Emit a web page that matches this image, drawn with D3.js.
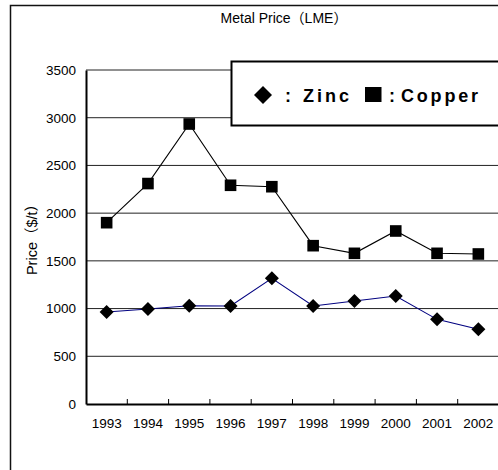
<!DOCTYPE html>
<html>
<head>
<meta charset="utf-8">
<script src="https://cdn.jsdelivr.net/npm/d3@7"></script>
<style>
  html, body { margin: 0; padding: 0; background: #fff; }
  svg { display: block; }
  text { font-family: "Liberation Sans", Arial, "Noto Sans CJK JP", sans-serif; fill: #000; }
</style>
</head>
<body>
<script>
const years = ["1993","1994","1995","1996","1997","1998","1999","2000","2001","2002"];
const zinc = [964, 995, 1030, 1027, 1317, 1027, 1079, 1132, 887, 783];
const copper = [1900, 2310, 2934, 2292, 2277, 1659, 1579, 1813, 1579, 1572];
const yTicks = [0, 500, 1000, 1500, 2000, 2500, 3000, 3500];
const title = "Metal Price（LME）";
const yLabel = "Price（$/t）";
const legendZinc = "Zinc";
const legendCopper = "Copper";

const W = 498, H = 470;
const svg = d3.select("body").append("svg").attr("width", W).attr("height", H);

// outer frame
svg.append("rect").attr("x", 10.5).attr("y", 5.5).attr("width", 520).attr("height", 520)
  .attr("fill", "none").attr("stroke", "#111").attr("stroke-width", 1.5);

const x = d3.scaleBand().domain(years).range([86, 499]);
const y = d3.scaleLinear().domain([0, 3500]).range([404, 70]);

// gridlines
svg.append("g").selectAll("line").data(yTicks.filter(d => d > 0)).join("line")
  .attr("x1", 86).attr("x2", 499)
  .attr("y1", d => y(d)).attr("y2", d => y(d))
  .attr("stroke", "#222").attr("stroke-width", 1);

// y axis
const yAxis = svg.append("g").attr("transform", "translate(86,0)")
  .call(d3.axisLeft(y).tickValues(yTicks).tickSize(0).tickPadding(10).tickFormat(d3.format("d")));
yAxis.select(".domain").attr("stroke", "#000").attr("stroke-width", 2);
yAxis.selectAll("text").style("font-size", "13.5px").style("font-family", "Liberation Sans, Arial, sans-serif");

// x axis
const xAxis = svg.append("g").attr("transform", "translate(0,404)")
  .call(d3.axisBottom(x).tickSize(0).tickPadding(14));
xAxis.select(".domain").attr("stroke", "#000").attr("stroke-width", 2);
xAxis.selectAll("text").style("font-size", "13.5px").style("font-family", "Liberation Sans, Arial, sans-serif");
// inner tick marks at band boundaries
svg.append("g").selectAll("line").data(years.slice(1)).join("line")
  .attr("x1", d => x(d)).attr("x2", d => x(d))
  .attr("y1", 399).attr("y2", 404)
  .attr("stroke", "#000").attr("stroke-width", 1);

const cx = d => x(d) + x.bandwidth() / 2;

// lines
const line = d3.line().x(d => cx(d[0])).y(d => y(d[1]));
svg.append("path").datum(years.map((yr, i) => [yr, copper[i]]))
  .attr("d", line).attr("fill", "none").attr("stroke", "#000").attr("stroke-width", 1.1);
svg.append("path").datum(years.map((yr, i) => [yr, zinc[i]]))
  .attr("d", line).attr("fill", "none").attr("stroke", "#000080").attr("stroke-width", 1.1);

// copper squares
svg.append("g").selectAll("rect").data(copper).join("rect")
  .attr("x", (d, i) => cx(years[i]) - 5.8).attr("y", d => y(d) - 5.8)
  .attr("width", 11.6).attr("height", 11.6).attr("fill", "#000");

// zinc diamonds
const dia = 7;
svg.append("g").selectAll("path").data(zinc).join("path")
  .attr("d", (d, i) => {
    const px = cx(years[i]), py = y(d);
    return `M${px},${py - dia}L${px + dia},${py}L${px},${py + dia}L${px - dia},${py}Z`;
  })
  .attr("fill", "#000");

// title
svg.append("text").attr("x", 284).attr("y", 23).attr("text-anchor", "middle")
  .style("font-size", "14px")
  .style("font-family", "Liberation Sans, Arial, Noto Sans CJK JP, sans-serif")
  .text(title);

// y label
svg.append("text").attr("transform", "translate(37,236) rotate(-90)")
  .attr("text-anchor", "middle").style("font-size", "14.5px")
  .style("font-family", "Liberation Sans, Arial, Noto Sans CJK JP, sans-serif")
  .text(yLabel);

// legend
const lg = svg.append("g");
lg.append("rect").attr("x", 231.5).attr("y", 61.5).attr("width", 300).attr("height", 64)
  .attr("fill", "#fff").attr("stroke", "#000").attr("stroke-width", 2);
lg.append("path").attr("d", "M263,86L272,95L263,104L254,95Z").attr("fill", "#000");
lg.append("rect").attr("x", 365).attr("y", 87).attr("width", 16.5).attr("height", 15).attr("fill", "#000");
const lgFont = "bold 18px 'Liberation Sans', Arial, sans-serif";
lg.append("text").attr("x", 288).attr("y", 102).attr("text-anchor", "middle").style("font", lgFont).text(":");
lg.append("text").attr("x", 392).attr("y", 102).attr("text-anchor", "middle").style("font", lgFont).text(":");
lg.append("text").attr("x", 303).attr("y", 102).attr("textLength", 46).attr("lengthAdjust", "spacing")
  .style("font", lgFont).text(legendZinc);
lg.append("text").attr("x", 401).attr("y", 102).attr("textLength", 77).attr("lengthAdjust", "spacing")
  .style("font", lgFont).text(legendCopper);
</script>
</body>
</html>
